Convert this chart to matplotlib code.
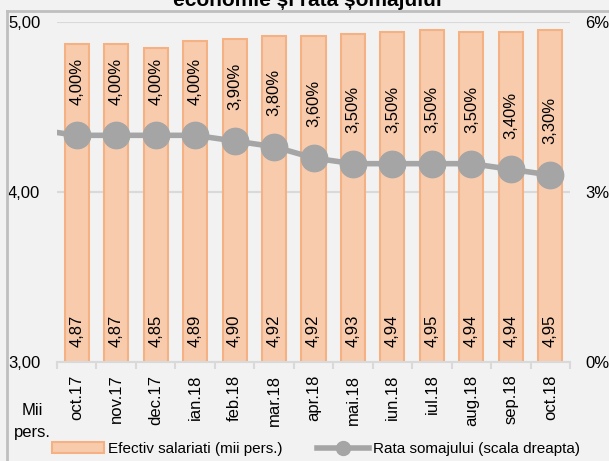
import matplotlib
matplotlib.use("Agg")
import matplotlib.pyplot as plt
from matplotlib.lines import Line2D

# data
months = ["oct.17", "nov.17", "dec.17", "ian.18", "feb.18", "mar.18", "apr.18",
          "mai.18", "iun.18", "iul.18", "aug.18", "sep.18", "oct.18"]
efectiv = [4.87, 4.87, 4.85, 4.89, 4.90, 4.92, 4.92, 4.93, 4.94, 4.95, 4.94, 4.94, 4.95]
rata = [4.0, 4.0, 4.0, 4.0, 3.9, 3.8, 3.6, 3.5, 3.5, 3.5, 3.5, 3.4, 3.3]
rata_prev = 4.1  # sep.17, outside the visible range (line enters from the left)

plt.rcParams['font.family'] = ['Liberation Sans', 'DejaVu Sans']
fs = 12
bg = "#f2f2f2"
grid_c = "#d9d9d9"

fig = plt.figure(figsize=(6.09, 4.61), dpi=100, facecolor=bg)
ax = fig.add_axes([57/609, 1-362/461, (570-57)/609, (362-22)/461])
ax.set_facecolor(bg)
x = list(range(len(months)))

ax.bar(x, efectiv, width=0.61, color="#f8cbad", edgecolor="#f4b183", linewidth=1.5, zorder=2)
ax.set_ylim(3, 5)
ax.set_xlim(-0.5, len(months)-0.5)
ax.set_yticks([3, 4, 5])
ax.set_yticklabels(["3,00", "4,00", "5,00"], fontsize=fs)
ax.tick_params(axis='y', length=0, pad=12)
ax.yaxis.grid(True, color=grid_c, linewidth=1.5, zorder=0)
ax.set_axisbelow(True)
for s in ["top", "right", "left"]:
    ax.spines[s].set_visible(False)
ax.spines["bottom"].set_color(grid_c)
ax.spines["bottom"].set_linewidth(1.5)
ax.set_xticks(x)
ax.set_xticklabels(months, rotation=90, fontsize=fs)
ax.tick_params(axis='x', which='major', length=0, pad=9)
ax.set_xticks([i - 0.5 for i in range(len(months)+1)], minor=True)
ax.tick_params(axis='x', which='minor', length=5, width=1.5, color=grid_c)

for i, v in enumerate(efectiv):
    ax.annotate(f"{v:.2f}".replace(".", ","), (i, 3), xytext=(0, 11), textcoords="offset points",
                rotation=90, ha="center", va="bottom", fontsize=fs, zorder=3)

ax2 = ax.twinx()
ax2.patch.set_visible(False)
ax2.set_ylim(0, 6)
ax2.set_yticks([0, 3, 6])
ax2.set_yticklabels(["0%", "3%", "6%"], fontsize=fs)
ax2.tick_params(axis='y', length=0, pad=11)
for s in ax2.spines.values():
    s.set_visible(False)
ax2.plot([-1] + x, [rata_prev] + rata, color="#a5a5a5", linewidth=4, marker="o",
         markersize=19, zorder=3)
for i, v in enumerate(rata):
    ax2.annotate(f"{v:.2f}".replace(".", ",") + "%", (i, v), xytext=(0, 22), textcoords="offset points",
                 rotation=90, ha="center", va="bottom", fontsize=fs)

# title (cut off at the top of the picture, like in the source)
fig.text(307/609, 1-6/461, "economie și rata șomajului", ha="center", va="baseline",
         fontsize=15, fontweight="bold")
fig.text(32/609, 1-410/461, "Mii", ha="center", va="center", fontsize=fs)
fig.text(32/609, 1-432/461, "pers.", ha="center", va="center", fontsize=fs)

# outer frame (left and top edges visible)
fig.add_artist(Line2D([7/609, 7/609], [0, 1-11/461], color="#bfbfbf", linewidth=2))
fig.add_artist(Line2D([7/609, 1], [1-11/461, 1-11/461], color="#bfbfbf", linewidth=2))

h1 = plt.Rectangle((0, 0), 1, 1, facecolor="#f8cbad", edgecolor="#f4b183", linewidth=1.5)
h2 = Line2D([], [], color="#a5a5a5", linewidth=4, marker="o", markersize=10)
fig.legend([h1, h2], ["Efectiv salariati (mii pers.)", "Rata somajului (scala dreapta)"],
           loc="center", bbox_to_anchor=(316/609, 1-449/461), ncol=2, frameon=False,
           fontsize=11, handlelength=3.4, handletextpad=0.26, columnspacing=2.3)

fig.savefig("out.png", dpi=100, facecolor=bg)
